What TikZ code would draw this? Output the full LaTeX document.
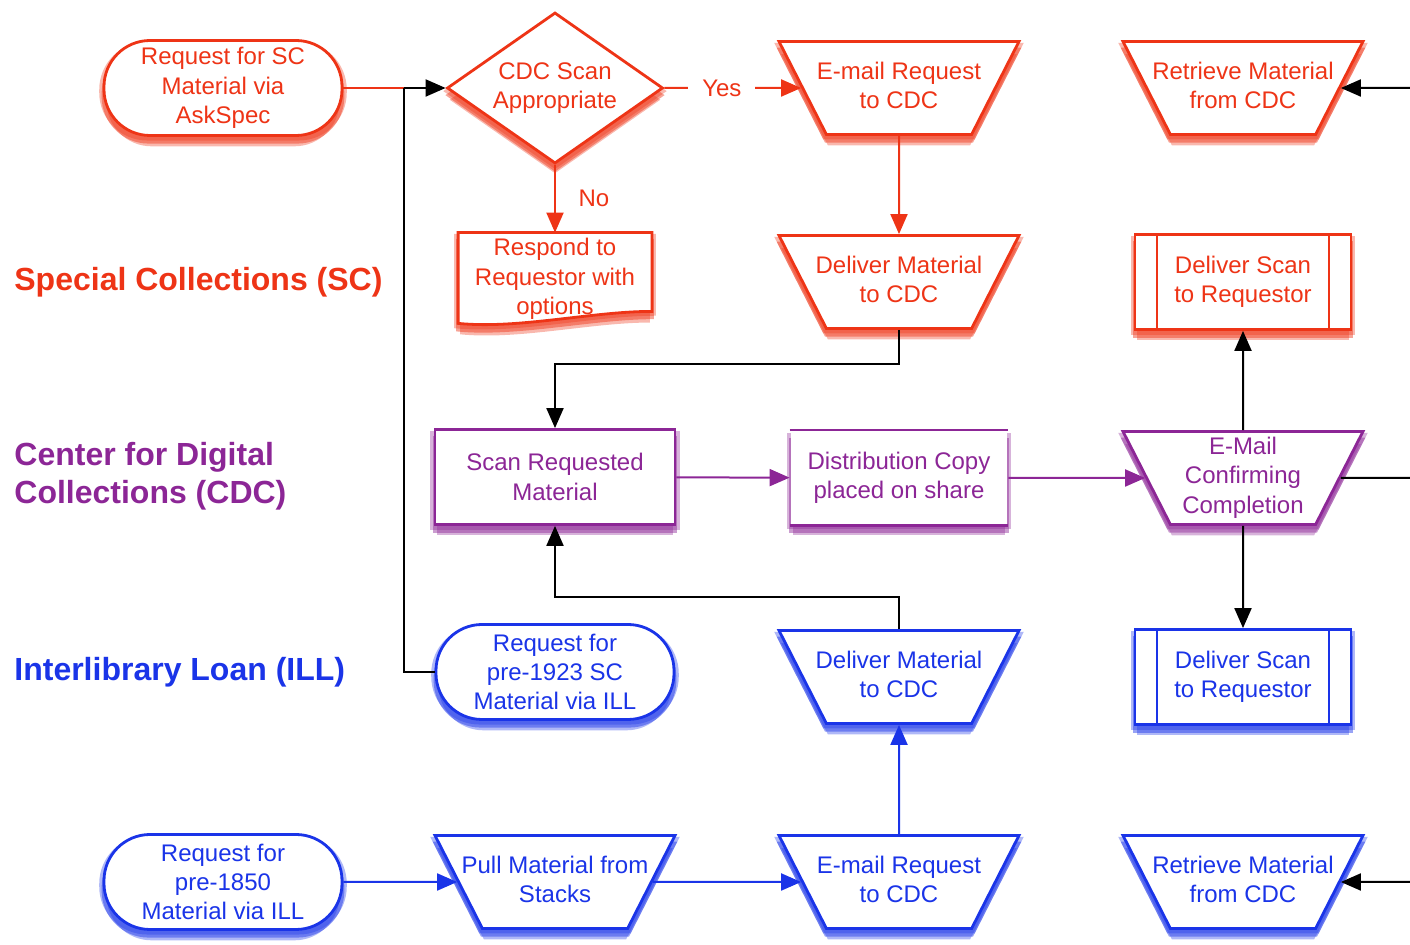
\documentclass[tikz,border=0pt]{standalone}
\usepackage{fontspec}
\setmainfont{Liberation Sans}
\usetikzlibrary{arrows.meta,positioning,shapes.geometric,shadows,backgrounds}
\definecolor{scRot}{RGB}{238,52,22}
\definecolor{cdcLila}{RGB}{140,38,150}
\definecolor{illBlau}{RGB}{26,52,232}
% fixed text block, so the trapezium keeps its slope
\newcommand{\trapeztext}[1]{\makebox[72pt]{\rule[-20.25pt]{0pt}{46.5pt}\begin{tabular}{@{}c@{}}#1\end{tabular}}}
\tikzset{
    >={Triangle[length=10pt,width=8.5pt]},
    glow/.style={
           drop shadow={shadow xshift=0pt, shadow yshift=-1.5pt,
                        shadow scale=1.04, fill=#1, opacity=.35},
           drop shadow={shadow xshift=0pt, shadow yshift=-3.5pt,
                        shadow scale=1.02, fill=#1, opacity=.45},
           drop shadow={shadow xshift=0pt, shadow yshift=-6pt,
                        shadow scale=.98, fill=#1, opacity=.35}},
    grund/.style={
           fill=white,
           draw=#1, text=#1,
           line width=1.4pt,
           align=center,
           inner sep=0pt,
           glow=#1},
    pille/.style={
           grund=#1,
           rectangle,
           rounded corners=23pt,
           minimum width=119pt,
           minimum height=47.5pt},
    raute/.style={
           grund=#1,
           diamond, aspect=1.4,
           minimum width=108pt,
           minimum height=75.5pt},
    trapez/.style={
           grund=#1,
           trapezium,
           shape border rotate=180,
           trapezium left angle=63,
           trapezium right angle=63,
           trapezium stretches body,
           minimum width=120pt,
           minimum height=46.5pt},
    kasten/.style={
           grund=#1,
           rectangle,
           minimum width=120pt,
           minimum height=47.5pt},
    ablage/.style={
           grund=#1,
           draw=none,
           minimum width=108pt,
           minimum height=46.5pt},
    unterprozess/.style={
           grund=#1,
           rectangle,
           minimum width=108pt,
           minimum height=47.5pt,
           path picture={
              \draw[#1, line width=1.4pt]
                ([xshift=11pt]path picture bounding box.north west) -- ([xshift=11pt]path picture bounding box.south west)
                ([xshift=-11pt]path picture bounding box.north east) -- ([xshift=-11pt]path picture bounding box.south east);}},
    bahn/.style={
           anchor=west,
           align=left,
           inner sep=0pt,
           font=\fontsize{16}{19}\selectfont\bfseries},
    pil/.style={
           ->,
           line width=1pt},
    linie/.style={
           line width=1pt}
}

\begin{document}
\begin{tikzpicture}[on grid, font=\fontsize{12}{14.7}\selectfont]
	\useasboundingbox (0,0) rectangle (705pt,-472.5pt);
	\coordinate (Rand) at (705pt,0);
	% Special Collections
	\node[pille=scRot] (AskSpec) at (111.5pt,-44pt) {Request for SC\\Material via\\AskSpec};
	\node[raute=scRot, right=166pt of AskSpec] (ScanCheck) {CDC Scan\\Appropriate};
	\node[trapez=scRot, right=172pt of ScanCheck] (MailSC) {\trapeztext{E-mail Request\\to CDC}};
	\node[trapez=scRot, right=172pt of MailSC] (RetrieveSC) {\trapeztext{Retrieve Material\\from CDC}};
	\node[text=scRot, align=center, minimum width=96.5pt, minimum height=46pt, inner sep=0pt, below=95.5pt of ScanCheck] (Respond) {Respond to\\Requestor with\\options};
	\node[trapez=scRot, below=97pt of MailSC] (DeliverSC) {\trapeztext{Deliver Material\\to CDC}};
	\node[unterprozess=scRot, below=97pt of RetrieveSC] (ScanToUserSC) {Deliver Scan\\to Requestor};
	\begin{pgfonlayer}{background}
	\draw[scRot, fill=white, line width=1.4pt, glow=scRot]
		(Respond.north west) -- (Respond.north east) -- ([yshift=7pt]Respond.south east)
		.. controls +(-30pt,0pt) and +(30pt,-3pt) .. ([yshift=1pt]Respond.south west) -- cycle;
	\end{pgfonlayer}
	% Center for Digital Collections
	\node[kasten=cdcLila, below=99pt of Respond] (ScanMat) {Scan Requested\\Material};
	\node[ablage=cdcLila, below=98pt of DeliverSC] (DistCopy) {Distribution Copy\\placed on share};
	\draw[cdcLila, line width=1.4pt] (DistCopy.north west) -- (DistCopy.north east)
		(DistCopy.south west) -- (DistCopy.south east);
	\node[trapez=cdcLila, below=98pt of ScanToUserSC] (MailDone) {\trapeztext{E-Mail\\Confirming\\Completion}};
	% Interlibrary Loan
	\node[pille=illBlau, below=97.5pt of ScanMat] (Req1923) {Request for\\pre-1923 SC\\Material via ILL};
	\node[trapez=illBlau, below=99.5pt of DistCopy] (DeliverILL) {\trapeztext{Deliver Material\\to CDC}};
	\node[unterprozess=illBlau, below=99.5pt of MailDone] (ScanToUserILL) {Deliver Scan\\to Requestor};
	\node[trapez=illBlau, below=102.5pt of DeliverILL] (MailILL) {\trapeztext{E-mail Request\\to CDC}};
	\node[trapez=illBlau, left=172pt of MailILL] (PullStacks) {\trapeztext{Pull Material from\\Stacks}};
	\node[pille=illBlau, left=166pt of PullStacks] (Ask1850) {Request for\\pre-1850\\Material via ILL};
	\node[trapez=illBlau, right=172pt of MailILL] (RetrieveILL) {\trapeztext{Retrieve Material\\from CDC}};
	% lanes
	\node[bahn, text=scRot] (LaneSC) at (7pt,-141pt) {Special Collections (SC)};
	\node[bahn, text=cdcLila] (LaneCDC) at (7pt,-238pt) {Center for Digital\\Collections (CDC)};
	\node[bahn, text=illBlau] (LaneILL) at (7pt,-336pt) {Interlibrary Loan (ILL)};
	% connectors
	\coordinate[right=30.5pt of AskSpec.east] (merge);
	\coordinate (inSC) at (Rand |- RetrieveSC);
	\coordinate (outCDC) at (Rand |- MailDone);
	\coordinate (inILL) at (Rand |- RetrieveILL);
	\draw[linie, scRot] (AskSpec) -- (merge);
	\draw[linie] (Req1923) -| (merge);
	\draw[pil] (merge) -- (ScanCheck);
	\draw[pil, scRot] (ScanCheck) -- node[pos=.42, fill=white, text=scRot, inner xsep=7pt]{Yes} (MailSC);
	\draw[pil, scRot] (ScanCheck) -- node[right=8pt, text=scRot]{No} (Respond);
	\draw[pil, scRot] (MailSC) -- (DeliverSC);
	\draw[pil] (inSC) -- (RetrieveSC);
	\draw[pil] (DeliverSC.south) -- ++(0,-17pt) -| (ScanMat.north);
	\draw[pil, cdcLila] (ScanMat) -- (DistCopy);
	\draw[pil, cdcLila] (DistCopy) -- (MailDone);
	\draw[pil] (MailDone) -- (ScanToUserSC);
	\draw[pil] (MailDone) -- (ScanToUserILL);
	\draw[linie] (MailDone) -- (outCDC);
	\draw[pil] (DeliverILL.north) -- ++(0,16pt) -| (ScanMat.south);
	\draw[pil, illBlau] (Ask1850) -- (PullStacks);
	\draw[pil, illBlau] (PullStacks) -- (MailILL);
	\draw[pil, illBlau] (MailILL) -- (DeliverILL);
	\draw[pil] (inILL) -- (RetrieveILL);
\end{tikzpicture}
\end{document}
